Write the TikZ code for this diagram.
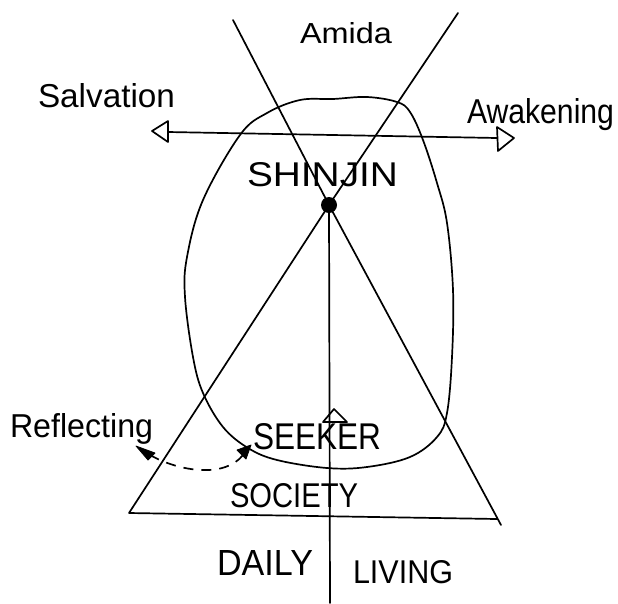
\documentclass[tikz,border=0pt]{standalone}
\usepackage{fontspec}
\setmainfont{Liberation Sans}
\begin{document}
\begin{tikzpicture}[x=1pt,y=-1pt,
  ink/.style={draw=black, line width=1.7pt, line join=round, line cap=round},
  openhead/.style={draw=black, line width=1.7pt, line join=round},
  tiphead/.style={fill=black, draw=black, line width=0.8pt, line join=round},
  lbl/.style={anchor=base west, inner sep=0pt, outer sep=0pt}]
\useasboundingbox (0,0) rectangle (618,603);
\fill[white] (0,0) rectangle (618,603);
% key points
\coordinate (dot) at (329,205);
\coordinate (xl) at (233,20);
\coordinate (xr) at (458,13);
\coordinate (bl) at (129,513);
\coordinate (br) at (497,519);
\coordinate (brt) at (501,525);
\coordinate (vb) at (330,603);
\coordinate (hl) at (168,132);
\coordinate (hr) at (497,138);
\coordinate (sk) at (243,455);
\coordinate (rf) at (150,455);
% blob
\draw[ink] plot[smooth cycle, tension=0.6] coordinates {
 (333,99) (367,97) (397,102) (410,112) (423,140) (437,183) (447,223) (453,290)
 (452,357) (447,413) (437,437) (410,457) (367,467) (327,468) (277,460)
 (248,448) (223,427) (203,393) (193,357) (185,297) (187,257) (203,200)
 (240,135) (267,113) (300,100)};
% X above the dot
\draw[ink] (xl) -- (dot);
\draw[ink] (xr) -- (dot);
% triangle below
\draw[ink] (dot) -- (bl) -- (br);
\draw[ink] (dot) -- (brt);
% vertical line
\draw[ink] (dot) -- (vb);
\draw[openhead] (334,409) -- (347,422) -- (323,422) -- cycle;
% horizontal arrow
\draw[ink] (hl) -- (hr);
\draw[openhead] (152,131) -- (168,121) -- (168,142) -- cycle;
\draw[openhead] (497,127) -- (514,138) -- (498,151) -- cycle;
% dot
\fill (dot) circle (8);
% reflecting dashed arrow
\draw[line width=1.7pt, dash pattern=on 10pt off 8pt]
  (sk) .. controls (225,478) and (180,472) .. (rf);
\fill[tiphead] (251,445) -- (237,450) -- (246,459) -- cycle;
\fill[tiphead] (136,446) -- (155,453) -- (148,460) -- cycle;
% labels
\node[lbl] (amida) at (300,43) {\resizebox{92pt}{21pt}{Amida}};
\node[lbl] (salv) at (38,107) {\resizebox{137pt}{24pt}{Salvation}};
\node[lbl] (awak) at (467,123) {\resizebox{147pt}{25pt}{Awakening}};
\node[lbl] (shin) at (247,186) {\resizebox{151pt}{24pt}{SHINJIN}};
\node[lbl] (refl) at (10,437) {\resizebox{143pt}{24pt}{Reflecting}};
\node[lbl] (seek) at (253,449) {\resizebox{128pt}{26pt}{SEEKER}};
\node[lbl] (soc) at (230,507) {\resizebox{128pt}{24pt}{SOCIETY}};
\node[lbl] (daily) at (217,575) {\resizebox{96pt}{25pt}{DAILY}};
\node[lbl] (living) at (353,583) {\resizebox{100pt}{23pt}{LIVING}};
\end{tikzpicture}
\end{document}
